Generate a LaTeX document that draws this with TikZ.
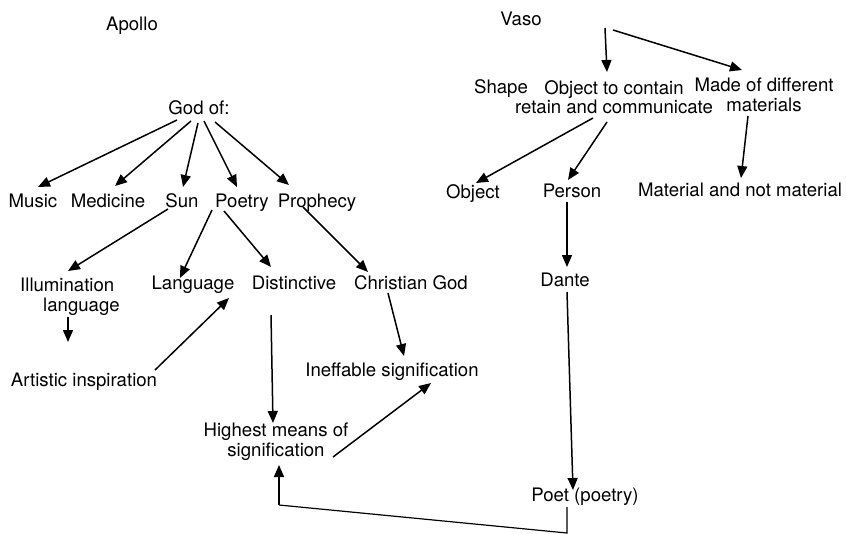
\documentclass[tikz,border=0pt]{standalone}
\usepackage{fontspec}
\setmainfont{TeX Gyre Heros}
\usetikzlibrary{calc,arrows.meta}
\begin{document}
\begin{tikzpicture}[x=1pt,y=-1pt,
  lbl/.style={inner sep=0pt, font=\fontsize{18.6}{19.5}\selectfont},
  arr/.style={-{Triangle[length=12pt,width=10pt]}, line width=1.5pt},
  ln/.style={line width=1.2pt}]
\useasboundingbox[fill=white] (0,0) rectangle (846,533);
% left tree
\node[lbl, anchor=base] (apollo) at (132,30) {Apollo};
\node[lbl, anchor=base] (god) at (199,114) {God of:};
\node[lbl, anchor=base] (music) at (33,207) {Music};
\node[lbl, anchor=base] (medicine) at (108,207) {Medicine};
\node[lbl, anchor=base] (sun) at (182,207) {Sun};
\node[lbl, anchor=base] (poetry) at (242,207) {Poetry};
\node[lbl, anchor=base] (prophecy) at (317,207) {Prophecy};
\node[lbl, anchor=north west, align=left] (illum) at (20,278) {Illumination\\\hspace*{23pt}language};
\node[lbl, anchor=base] (language) at (193,289) {Language};
\node[lbl, anchor=base] (distinctive) at (294,289) {Distinctive};
\node[lbl, anchor=base] (christian) at (411,289) {Christian God};
\node[lbl, anchor=base] (artistic) at (84,386) {Artistic inspiration};
\node[lbl, anchor=base] (ineffable) at (392,376) {Ineffable signification};
\node[lbl, anchor=north, align=center] (highest) at (276,423) {Highest means of\\signification};
\node[lbl, anchor=base] (poet) at (585,501) {Poet (poetry)};
% right tree
\node[lbl, anchor=base] (vaso) at (521,25) {Vaso};
\node[lbl, anchor=base] (shape) at (501,93) {Shape};
\node[lbl, anchor=north, align=center] (contain) at (614,80) {Object to contain\\retain and communicate};
\node[lbl, anchor=north, align=center] (made) at (764,78) {Made of different\\materials};
\node[lbl, anchor=base] (object) at (473,198) {Object};
\node[lbl, anchor=base] (person) at (572,197) {Person};
\node[lbl, anchor=base] (material) at (740,196) {Material and not material};
\node[lbl, anchor=base] (dante) at (565,286) {Dante};
\coordinate (illumend) at ($(illum.north west)+(48,64)$);
% connectors left
\draw[arr] ($(god.base)+(-22,6)$) -- ($(music.base)+(5,-20)$);
\draw[arr] ($(god.base)+(-8,7)$) -- ($(medicine.base)+(7,-21)$);
\draw[arr] ($(god.base)+(-1,9)$) -- ($(sun.base)+(1,-20)$);
\draw[arr] ($(god.base)+(5,7)$) -- ($(poetry.base)+(-5,-20)$);
\draw[arr] ($(god.base)+(16,8)$) -- ($(prophecy.base)+(-28,-22)$);
\draw[arr] ($(sun.base)+(-14,2)$) -- ($(illum.north west)+(48,-7)$);
\draw[arr] ($(poetry.base)+(-30,3)$) -- ($(language.base)+(-13,-11)$);
\draw[arr] ($(poetry.base)+(-18,4)$) -- ($(distinctive.base)+(-23,-22)$);
\draw[arr] ($(prophecy.base)+(-14,0)$) -- ($(christian.base)+(-43,-17)$);
\draw[arr] ($(illum.north west)+(48,39)$) -- (illumend);
\draw[arr] ($(artistic.base)+(71,-16)$) -- ($(language.base)+(36,9)$);
\draw[arr] ($(distinctive.base)+(-23,26)$) -- ($(highest.north)+(-3,0)$);
\draw[arr] ($(christian.base)+(-23,4)$) -- ($(ineffable.base)+(12,-20)$);
\draw[arr] ($(highest.north)+(57,34)$) -- ($(ineffable.base)+(39,7)$);
\draw[ln] ($(poet.base)+(-18,6)$) -- ($(poet.base)+(-18,32)$) -- ($(highest.north)+(3,82)$);
\draw[arr] ($(highest.north)+(3,82)$) -- ($(highest.north)+(3,42)$);
\draw[arr] ($(dante.base)+(2,6)$) -- ($(poet.base)+(-12,-11)$);
% connectors right
\draw[arr] ($(vaso.base)+(84,3)$) -- ($(contain.north)+(-7,-8)$);
\draw[arr] ($(vaso.base)+(92,5)$) -- ($(made.north)+(-22,-8)$);
\draw[arr] ($(contain.north)+(-21,38)$) -- ($(object.base)+(3,-15)$);
\draw[arr] ($(contain.north)+(-7,42)$) -- ($(person.base)+(-4,-17)$);
\draw[arr] ($(made.north)+(-16,38)$) -- ($(material.base)+(1,-18)$);
\draw[arr] ($(person.base)+(-5,5)$) -- ($(dante.base)+(2,-19)$);
\end{tikzpicture}
\end{document}
